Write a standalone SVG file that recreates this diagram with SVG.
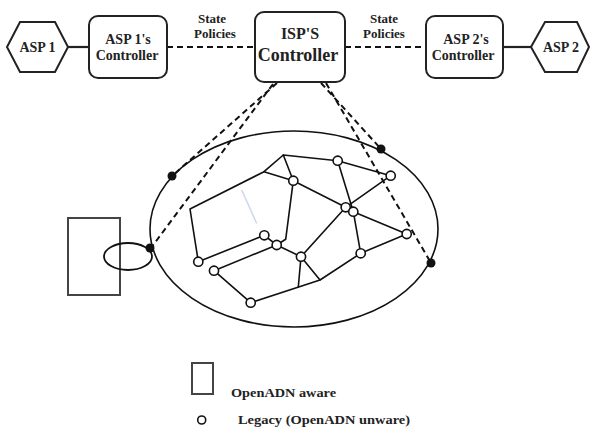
<svg xmlns="http://www.w3.org/2000/svg" width="590" height="430" viewBox="0 0 590 430">
<style>
.box{fill:#fff;stroke:#222;stroke-width:2}
.t{font-family:"Liberation Serif","Times New Roman",serif;font-weight:bold;fill:#222;text-anchor:middle}
.e{stroke:#111;stroke-width:1.6;fill:none;stroke-linecap:round;stroke-linejoin:round}
.d{stroke:#111;stroke-width:2;stroke-dasharray:6 4;fill:none}
.n{fill:#fff;stroke:#111;stroke-width:1.6}
.b{fill:#111}
</style>
<rect width="590" height="430" fill="#fff"/>
<g id="connectors">
  <line x1="68" y1="47" x2="89" y2="47" stroke="#222" stroke-width="2.2"/>
  <line x1="503" y1="47" x2="531" y2="47" stroke="#222" stroke-width="2.2"/>
  <line class="d" x1="167" y1="47" x2="255" y2="47"/>
  <line class="d" x1="345" y1="47" x2="426" y2="47"/>
  <line class="d" x1="277" y1="83" x2="172" y2="176"/>
  <line class="d" x1="273" y1="84" x2="151" y2="248"/>
  <line class="d" x1="321" y1="83" x2="381" y2="149"/>
  <line class="d" x1="326" y1="83" x2="431" y2="263"/>
</g>
<g id="asp1">
  <polygon class="box" points="7,47 20,22 55,22 68,47 55,72 20,72"/>
  <text class="t" x="37.5" y="52" font-size="14">ASP 1</text>
</g>
<g id="asp1-controller">
  <rect class="box" x="89" y="16" width="78" height="62" rx="9"/>
  <text class="t" x="128" y="44" font-size="14">ASP 1's</text>
  <text class="t" x="127" y="60" font-size="14">Controller</text>
</g>
<g id="label-left">
  <text class="t" x="212" y="23" font-size="13">State</text>
  <text class="t" x="215" y="38" font-size="13">Policies</text>
</g>
<g id="isp-controller">
  <rect class="box" x="255" y="12" width="90" height="70" rx="9"/>
  <text class="t" x="300" y="39" font-size="16">ISP'S</text>
  <text class="t" x="298" y="61" font-size="18">Controller</text>
</g>
<g id="label-right">
  <text class="t" x="384" y="23" font-size="13">State</text>
  <text class="t" x="384" y="38" font-size="13">Policies</text>
</g>
<g id="asp2-controller">
  <rect class="box" x="426" y="16" width="77" height="62" rx="9"/>
  <text class="t" x="466" y="44" font-size="14">ASP 2's</text>
  <text class="t" x="463" y="60" font-size="14">Controller</text>
</g>
<g id="asp2">
  <polygon class="box" points="531,47 545,22 577,22 589,47 577,72 545,72"/>
  <text class="t" x="561" y="52" font-size="14">ASP 2</text>
</g>
<g id="domain">
  <ellipse cx="294" cy="229" rx="144" ry="98" fill="none" stroke="#111" stroke-width="1.6"/>
</g>
<g id="openadn-node">
  <rect x="68" y="218" width="52" height="77" fill="#fff" stroke="#444" stroke-width="2"/>
  <ellipse cx="128" cy="256.5" rx="24" ry="13.5" fill="none" stroke="#111" stroke-width="1.8"/>
</g>
<g id="network">
  <line x1="241.7" y1="190" x2="256.7" y2="223.5" stroke="#c9d9ec" stroke-width="1.5"/>
  <polyline class="e" points="198.3,261.7 190,209 264,171.7 283.3,155 337.7,160.7 390.7,175.7"/>
  <polyline class="e" points="264,171.7 293.3,180.7 283.3,155"/>
  <polyline class="e" points="293.3,180.7 345.7,207.3 353.3,211.7 406.7,234"/>
  <polyline class="e" points="337.7,160.7 353.3,211.7 360.7,253.3"/>
  <polyline class="e" points="390.7,175.7 345.7,207.3 301,256.7"/>
  <polyline class="e" points="293.3,180.7 285.7,239.3 276.7,245"/>
  <line class="e" x1="198.3" y1="261.7" x2="264.3" y2="235.3"/>
  <line class="e" x1="264.3" y1="235.3" x2="276.7" y2="245"/>
  <line class="e" x1="214" y1="270.7" x2="276.7" y2="245"/>
  <line class="e" x1="276.7" y1="245" x2="301" y2="256.7"/>
  <line class="e" x1="214" y1="270.7" x2="250.7" y2="302.7"/>
  <polyline class="e" points="250.7,302.7 320,280 360.7,253.3 406.7,234"/>
  <line class="e" x1="301" y1="256.7" x2="298.3" y2="287"/>
  <line class="e" x1="301" y1="256.7" x2="320" y2="280"/>
  <circle class="n" cx="337.7" cy="160.7" r="4.6"/>
  <circle class="n" cx="293.3" cy="180.7" r="4.6"/>
  <circle class="n" cx="390.7" cy="175.7" r="4.6"/>
  <circle class="n" cx="345.7" cy="207.3" r="4.6"/>
  <circle class="n" cx="353.3" cy="211.7" r="4.6"/>
  <circle class="n" cx="406.7" cy="234" r="4.6"/>
  <circle class="n" cx="264.3" cy="235.3" r="4.6"/>
  <circle class="n" cx="276.7" cy="245" r="4.6"/>
  <circle class="n" cx="301" cy="256.7" r="4.6"/>
  <circle class="n" cx="360.7" cy="253.3" r="4.6"/>
  <circle class="n" cx="198.3" cy="261.7" r="4.6"/>
  <circle class="n" cx="214" cy="270.7" r="4.6"/>
  <circle class="n" cx="250.7" cy="302.7" r="4.6"/>
</g>
<g id="border-points">
  <circle class="b" cx="172" cy="176" r="4.5"/>
  <circle class="b" cx="381" cy="149" r="4.5"/>
  <circle class="b" cx="150" cy="248" r="4.5"/>
  <circle class="b" cx="431" cy="263" r="4.5"/>
</g>
<g id="legend">
  <rect x="192" y="363" width="21" height="31" fill="#fff" stroke="#444" stroke-width="2"/>
  <text class="t" x="231" y="397" font-size="13" text-anchor="start" style="text-anchor:start" textLength="105" lengthAdjust="spacingAndGlyphs">OpenADN aware</text>
  <circle class="n" cx="201.7" cy="420" r="4" stroke-width="2"/>
  <text class="t" x="238" y="424" font-size="13" style="text-anchor:start" textLength="172" lengthAdjust="spacingAndGlyphs">Legacy (OpenADN unware)</text>
</g>
</svg>
